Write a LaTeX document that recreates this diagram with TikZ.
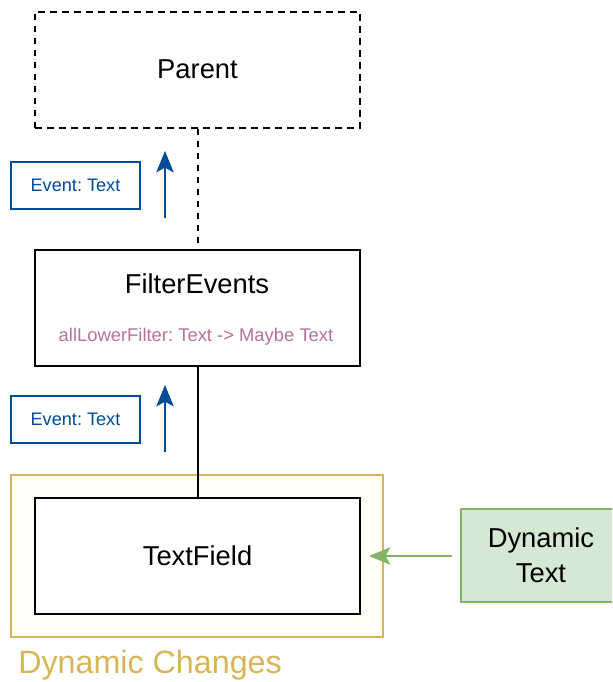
\documentclass[tikz,border=0pt]{standalone}
\usepackage{fontspec}
\setmainfont{Liberation Sans}
\usetikzlibrary{arrows.meta}
\frenchspacing
\definecolor{evblue}{HTML}{004C99}
\definecolor{filterpink}{HTML}{B5739D}
\definecolor{dynyellow}{HTML}{D6B656}
\definecolor{dynfill}{HTML}{FFFDF5}
\definecolor{greenfill}{HTML}{D5E8D4}
\definecolor{greenline}{HTML}{82B366}
\tikzset{
  comp/.style={draw=black, line width=1.5pt, fill=white, minimum width=325*0.75pt, minimum height=116*0.75pt, inner sep=0pt},
  evbox/.style={draw=evblue, line width=1.4pt, fill=white, text=evblue, font=\fontsize{13.6pt}{16pt}\selectfont, minimum width=129*0.75pt, minimum height=47*0.75pt, inner sep=0pt},
  tiphead/.style={-{Stealth[length=16pt, width=13pt, inset=3.5pt]}},
  evarrow/.style={draw=evblue, line width=1.5pt, tiphead},
  bigtxt/.style={font=\fontsize{20.5pt}{24pt}\selectfont},
}
\begin{document}
\begin{tikzpicture}[x=0.75pt,y=-0.75pt]
\useasboundingbox (0,0) rectangle (612,682);
\begin{scope}
\clip (0,0) rectangle (612,682);
% grouping frame for the dynamic part
\node[draw=dynyellow, line width=1.4pt, fill=dynfill, minimum width=372*0.75pt, minimum height=162*0.75pt, inner sep=0pt] (dyn) at (197,556) {};
\node[text=dynyellow, anchor=west, font=\fontsize{24.2pt}{28pt}\selectfont, inner sep=0pt] (dynlabel) at (18,665) {Dynamic Changes};

% components
\node[comp, dashed, dash pattern=on 5pt off 4pt] (parent) at (197.5,69.5) {};
\node[bigtxt] (parentlbl) at (parent.center) {Parent};
\node[comp] (filter) at (197.5,308) {};
\node[bigtxt] (filterlbl) at (197,284) {FilterEvents};
\node[text=filterpink, font=\fontsize{13.8pt}{16pt}\selectfont] (filtersig) at (196,336.5) {allLowerFilter: Text -> Maybe Text};
\node[comp] (textfield) at (197.5,556) {};
\node[bigtxt] (tflbl) at (textfield.center) {TextField};

% connectors between components
\draw[line width=1.5pt, dash pattern=on 5pt off 4pt] (parent.south) -- (filter.north);
\draw[line width=1.5pt] (filter.south) -- (textfield.north);

% event annotations
\node[evbox] (ev1) at (75.5,185.5) {Event: Text};
\coordinate (a1s) at (165,218);
\coordinate (a1e) at (165,151);
\draw[evarrow] (a1s) -- (a1e);
\node[evbox] (ev2) at (75.5,419.5) {Event: Text};
\coordinate (a2s) at (165,452);
\coordinate (a2e) at (165,385);
\draw[evarrow] (a2s) -- (a2e);

% external input
\node[draw=greenline, line width=1.4pt, fill=greenfill, minimum width=160*0.75pt, minimum height=93*0.75pt, inner sep=0pt, align=center, font=\fontsize{20.5pt}{26pt}\selectfont] (dyntext) at (541,555.5) {Dynamic\\Text};
\coordinate (gin) at (452,556);
\coordinate (gout) at (369,556);
\draw[draw=greenline, line width=1.5pt, tiphead] (gin) -- (gout);
\end{scope}
\end{tikzpicture}
\end{document}
